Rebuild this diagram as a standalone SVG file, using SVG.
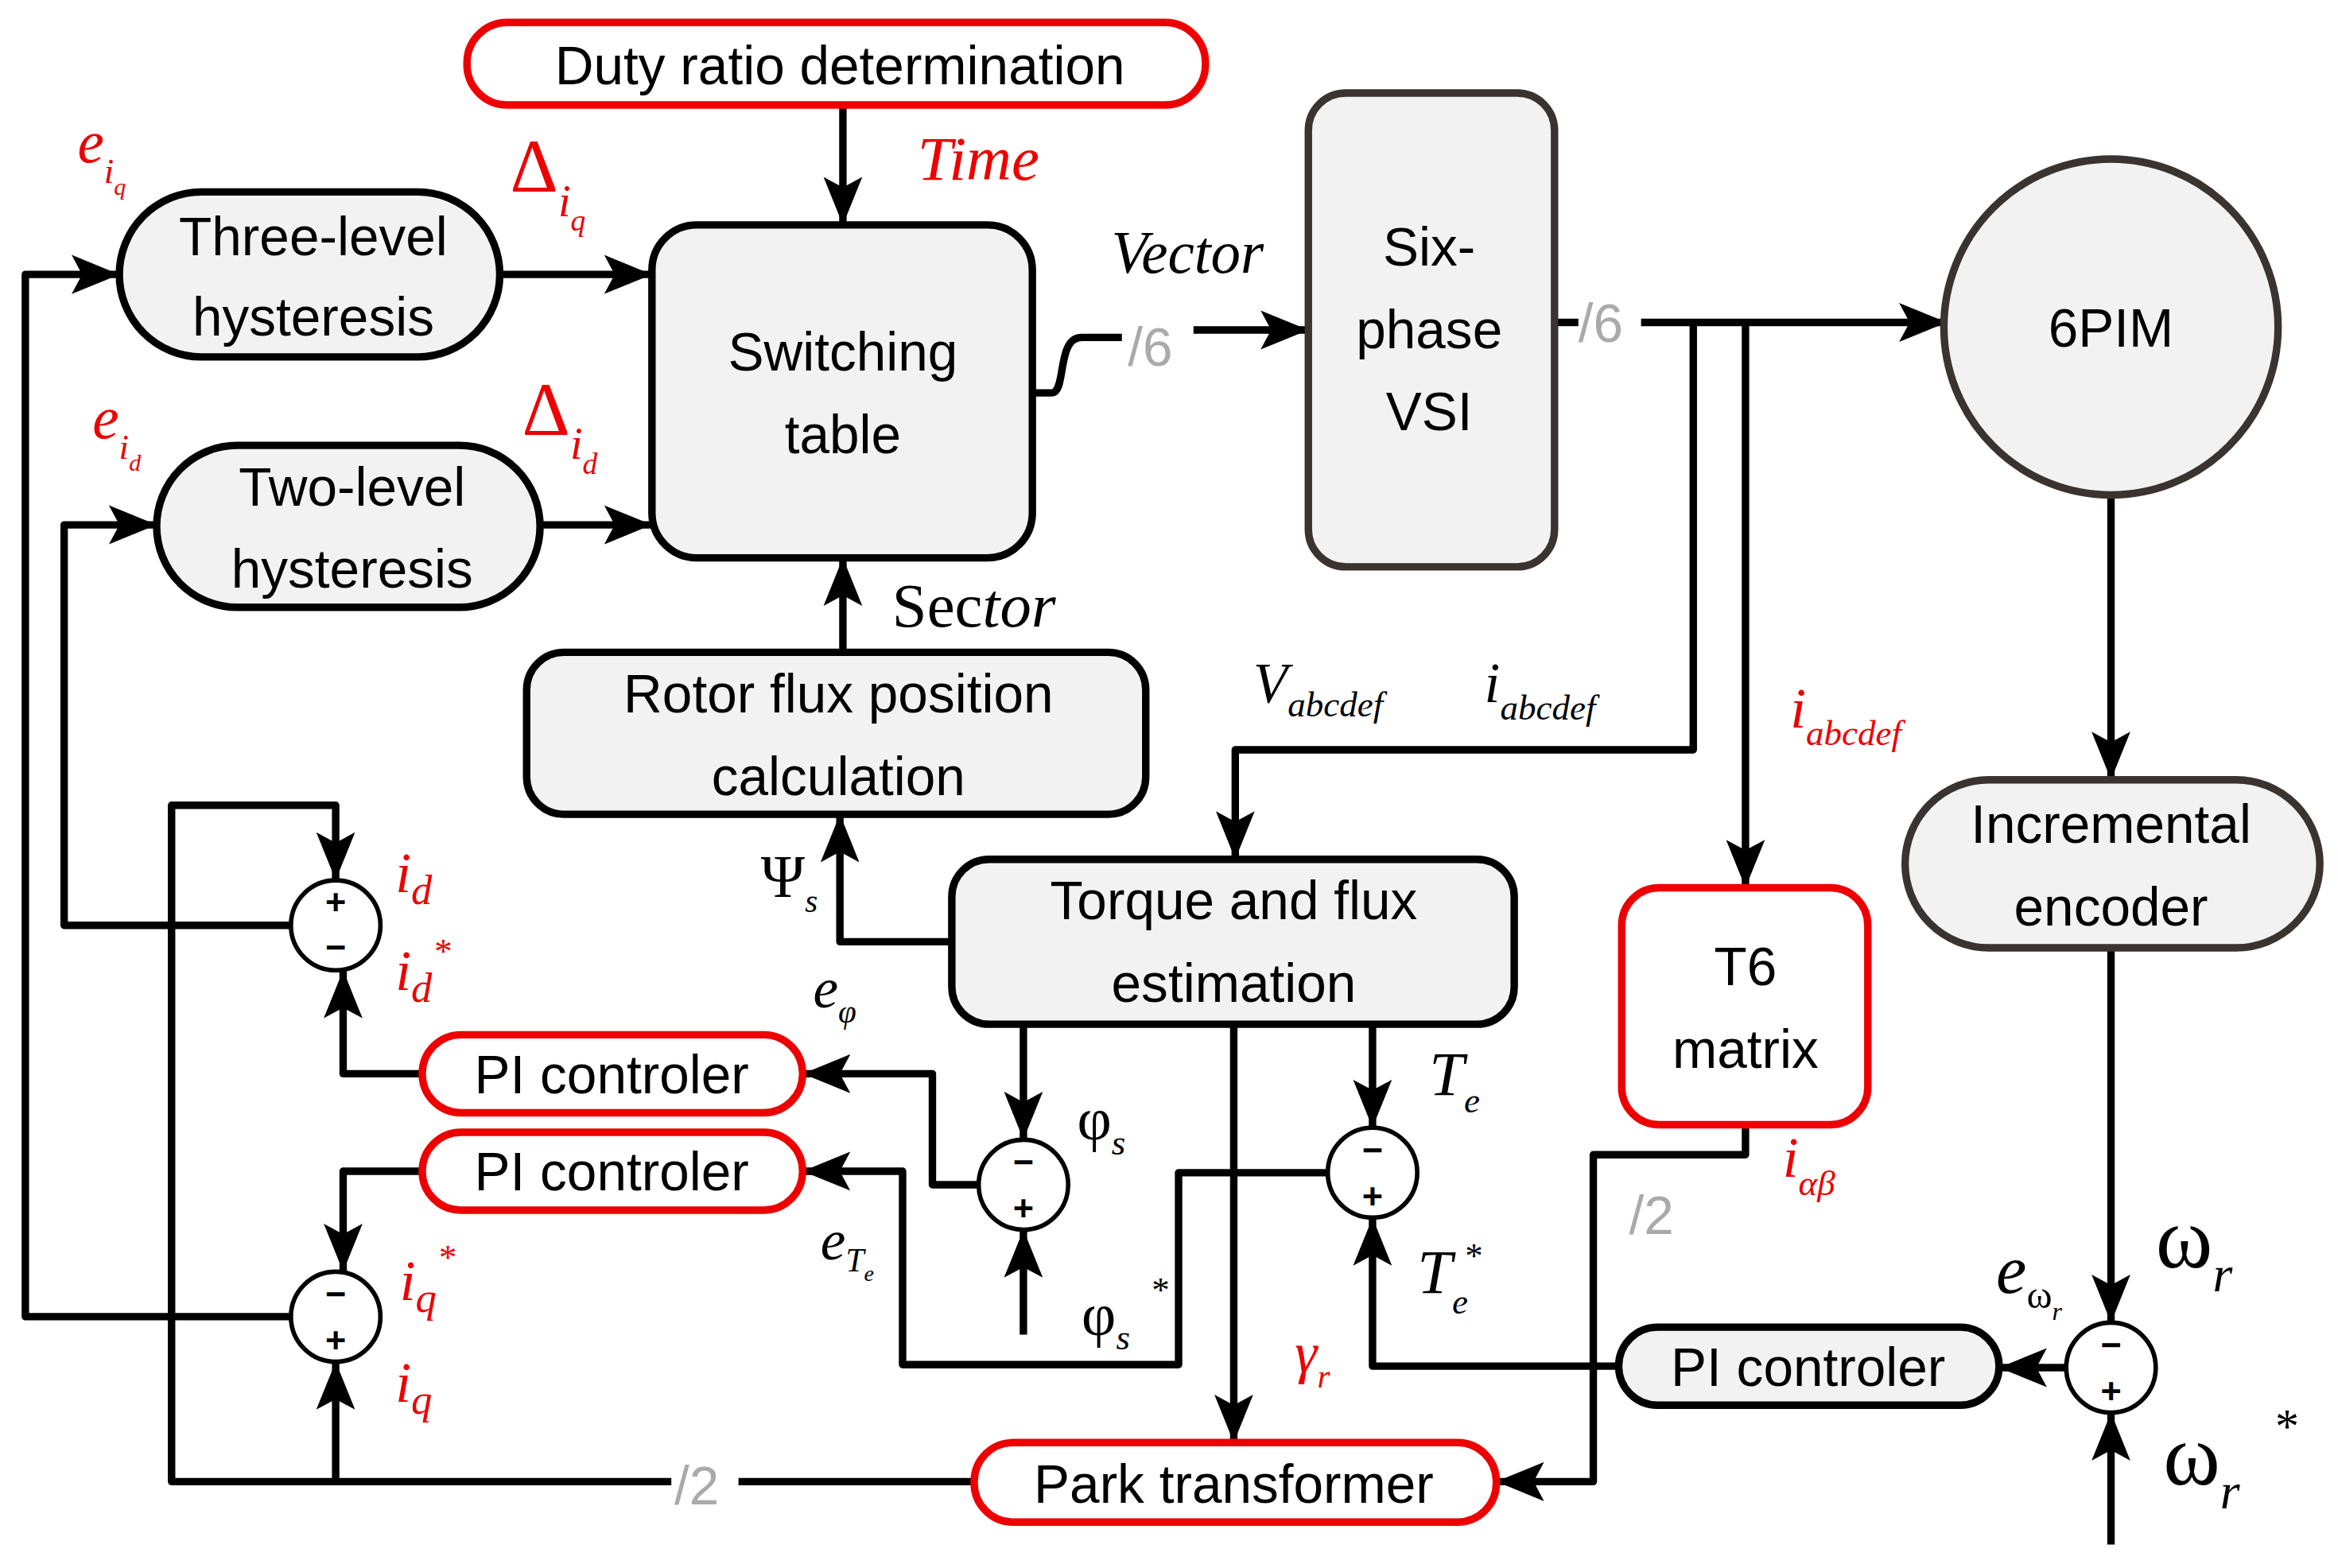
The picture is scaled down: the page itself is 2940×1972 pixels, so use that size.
<svg xmlns="http://www.w3.org/2000/svg" width="2940" height="1972" viewBox="0 0 2940 1972">
<style>
.t{font-family:"Liberation Sans",Arial,sans-serif;font-size:36px;text-anchor:middle;fill:#000}
.m{font-family:"Liberation Serif","Times New Roman",serif;font-style:italic;fill:#000}
.r{fill:#e00}
.g{font-family:"Liberation Sans",Arial,sans-serif;font-size:36px;fill:#aaa}
.w{fill:none;stroke:#000;stroke-width:5;stroke-linejoin:round}
.gb{fill:#f2f2f2;stroke:#000;stroke-width:5}
.rb{fill:#fff;stroke:#e00;stroke-width:5}
.db{fill:#f2f2f2;stroke:#3a3330;stroke-width:5}
.c{fill:#fff;stroke:#000;stroke-width:3}
.s{font-family:"Liberation Sans",Arial,sans-serif;font-size:24px;font-weight:bold;text-anchor:middle}
</style>
<defs>
<marker id="a" markerUnits="userSpaceOnUse" markerWidth="34" markerHeight="30" refX="32" refY="15" orient="auto"><path d="M0,2 L32,15 L0,28 L7,15 Z" fill="#000"/></marker>
</defs>
<rect width="2940" height="1972" fill="#fff"/>
<g transform="scale(1.876,1.886)">
<g id="connectors">
<path class="w" d="M565,70 V150" marker-end="url(#a)"/>
<path class="w" d="M335,183 H437" marker-end="url(#a)"/>
<path class="w" d="M362,350 H437" marker-end="url(#a)"/>
<path class="w" d="M195,878 H17 V183 H80" marker-end="url(#a)"/>
<path class="w" d="M195,617 H43 V350 H105" marker-end="url(#a)"/>
<path class="w" d="M653,988 H495"/>
<path class="w" d="M450,988 H115 V537 H225 V587" marker-end="url(#a)"/>
<path class="w" d="M225,988 V908" marker-end="url(#a)"/>
<path class="w" d="M283,716 H230 V647" marker-end="url(#a)"/>
<path class="w" d="M283,781 H230 V848" marker-end="url(#a)"/>
<path class="w" d="M565,435 V372" marker-end="url(#a)"/>
<path class="w" d="M638,628 H563 V543" marker-end="url(#a)"/>
<path class="w" d="M692,262 H705 C715,262 708,225 725,225 H752"/>
<path class="w" d="M800,220 H877" marker-end="url(#a)"/>
<path class="w" d="M1042,215 H1058"/>
<path class="w" d="M1100,215 H1305" marker-end="url(#a)"/>
<path class="w" d="M1135,215 V500 H828 V573" marker-end="url(#a)"/>
<path class="w" d="M1170,215 V592" marker-end="url(#a)"/>
<path class="w" d="M1170,750 V770 H1068 V988 H1003" marker-end="url(#a)"/>
<path class="w" d="M1415,330 V520" marker-end="url(#a)"/>
<path class="w" d="M1415,632 V882" marker-end="url(#a)"/>
<path class="w" d="M1415,1030 V942" marker-end="url(#a)"/>
<path class="w" d="M1385,912 H1340" marker-end="url(#a)"/>
<path class="w" d="M1085,911 H920 V812" marker-end="url(#a)"/>
<path class="w" d="M920,683 V752" marker-end="url(#a)"/>
<path class="w" d="M890,782 H790 V910 H605 V781 H538" marker-end="url(#a)"/>
<path class="w" d="M686,683 V760" marker-end="url(#a)"/>
<path class="w" d="M656,790 H625 V716 H538" marker-end="url(#a)"/>
<path class="w" d="M686,890 V820" marker-end="url(#a)"/>
<path class="w" d="M827,683 V962" marker-end="url(#a)"/>
</g>
<g id="duty"><rect class="rb" x="313" y="15" width="495" height="55" rx="27"/><text class="t" x="563" y="56">Duty ratio determination</text></g>
<g id="switch"><rect class="gb" x="437" y="150" width="255" height="222" rx="30"/><text class="t" x="565" y="247" font-size="38">Switching</text><text class="t" x="565" y="302" font-size="38">table</text></g>
<g id="three"><rect class="gb" x="80" y="128" width="255" height="110" rx="55"/><text class="t" x="210" y="170">Three-level</text><text class="t" x="210" y="224">hysteresis</text></g>
<g id="two"><rect class="gb" x="105" y="297" width="257" height="108" rx="54"/><text class="t" x="236" y="337">Two-level</text><text class="t" x="236" y="392">hysteresis</text></g>
<g id="rotor"><rect class="gb" x="353" y="435" width="415" height="108" rx="25"/><text class="t" x="562" y="475">Rotor flux position</text><text class="t" x="562" y="530">calculation</text></g>
<g id="torque"><rect class="gb" x="638" y="573" width="377" height="110" rx="25"/><text class="t" x="827" y="613">Torque and flux</text><text class="t" x="827" y="668">estimation</text></g>
<g id="vsi"><rect class="db" x="877" y="62" width="165" height="316" rx="25"/><text class="t" x="958" y="177">Six-</text><text class="t" x="958" y="232">phase</text><text class="t" x="958" y="287">VSI</text></g>
<g id="pim"><circle class="db" cx="1415" cy="218" r="112"/><text class="t" x="1415" y="231" font-size="37">6PIM</text></g>
<g id="t6"><rect class="rb" x="1087" y="592" width="165" height="158" rx="25"/><text class="t" x="1170" y="657">T6</text><text class="t" x="1170" y="712">matrix</text></g>
<g id="encoder"><rect class="db" x="1277" y="520" width="278" height="112" rx="56"/><text class="t" x="1415" y="562">Incremental</text><text class="t" x="1415" y="617">encoder</text></g>
<g id="pi1"><rect class="rb" x="283" y="690" width="255" height="52" rx="26"/><text class="t" x="410" y="729">PI controler</text></g>
<g id="pi2"><rect class="rb" x="283" y="755" width="255" height="52" rx="26"/><text class="t" x="410" y="794">PI controler</text></g>
<g id="pi3"><rect class="gb" x="1085" y="885" width="255" height="52" rx="26"/><text class="t" x="1212" y="924">PI controler</text></g>
<g id="park"><rect class="rb" x="653" y="962" width="350" height="53" rx="26"/><text class="t" x="827" y="1002">Park transformer</text></g>
<g id="sumd"><circle class="c" cx="225" cy="617" r="30"/><text class="s" x="225" y="610">+</text><text class="s" x="225" y="640">−</text></g>
<g id="sumq"><circle class="c" cx="225" cy="878" r="30"/><text class="s" x="225" y="871">−</text><text class="s" x="225" y="902">+</text></g>
<g id="sumphi"><circle class="c" cx="686" cy="790" r="30"/><text class="s" x="686" y="783">−</text><text class="s" x="686" y="814">+</text></g>
<g id="sumte"><circle class="c" cx="920" cy="782" r="30"/><text class="s" x="920" y="775">−</text><text class="s" x="920" y="806">+</text></g>
<g id="sumw"><circle class="c" cx="1415" cy="912" r="30"/><text class="s" x="1415" y="905">−</text><text class="s" x="1415" y="936">+</text></g>
<g id="labels">
<text class="m r" x="615" y="120" font-size="42">Time</text>
<text class="m" x="745" y="182" font-size="40">Vector</text>
<text class="g" x="756" y="244">/6</text>
<text class="g" x="1058" y="228">/6</text>
<text class="g" x="452" y="1003">/2</text>
<text class="g" x="1092" y="823">/2</text>
<text font-family="Liberation Serif,serif" font-size="42" x="598" y="418">Sec<tspan font-style="italic">tor</tspan></text>
<text class="m r" x="52" y="108" font-size="40">e<tspan font-size="24" dy="14">i</tspan><tspan font-size="16" dy="8">q</tspan></text>
<text class="m r" x="62" y="292" font-size="40">e<tspan font-size="24" dy="14">i</tspan><tspan font-size="16" dy="8">d</tspan></text>
<text font-family="Liberation Serif,serif" fill="#e00" font-size="50" x="342" y="128">Δ<tspan font-style="italic" font-size="30" dy="16">i</tspan><tspan font-style="italic" font-size="20" dy="10">q</tspan></text>
<text font-family="Liberation Serif,serif" fill="#e00" font-size="50" x="350" y="290">Δ<tspan font-style="italic" font-size="30" dy="16">i</tspan><tspan font-style="italic" font-size="20" dy="10">d</tspan></text>
<text class="m r" x="265" y="595" font-size="38">i<tspan font-size="28" dy="8">d</tspan></text>
<text class="m r" x="265" y="660" font-size="38">i<tspan font-size="28" dy="8">d</tspan></text>
<text class="m r" x="290" y="642" font-size="24">*</text>
<text class="m r" x="268" y="867" font-size="38">i<tspan font-size="28" dy="8">q</tspan></text>
<text class="m r" x="293" y="846" font-size="24">*</text>
<text class="m r" x="265" y="935" font-size="38">i<tspan font-size="28" dy="8">q</tspan></text>
<text font-family="Liberation Serif,serif" font-size="40" x="510" y="598">Ψ<tspan font-style="italic" font-size="22" dy="10">s</tspan></text>
<text class="m" x="545" y="672" font-size="38">e<tspan font-size="22" dy="10">φ</tspan></text>
<text class="m" x="550" y="840" font-size="38">e<tspan font-size="22" dy="8">T</tspan><tspan font-size="15" dy="6">e</tspan></text>
<text class="m" x="840" y="468" font-size="38">V<tspan font-size="24" dy="10">abcdef</tspan></text>
<text class="m" x="995" y="468" font-size="38">i<tspan font-size="24" dy="12">abcdef</tspan></text>
<text class="m r" x="1200" y="485" font-size="38">i<tspan font-size="24" dy="12">abcdef</tspan></text>
<text class="m r" x="1195" y="785" font-size="38">i<tspan font-size="24" dy="12">αβ</tspan></text>
<text font-family="Liberation Serif,serif" font-size="40" x="722" y="760">φ<tspan font-style="italic" font-size="24" dy="10">s</tspan></text>
<text font-family="Liberation Serif,serif" font-size="40" x="725" y="890">φ<tspan font-style="italic" font-size="24" dy="10">s</tspan></text>
<text font-family="Liberation Serif,serif" font-size="24" x="772" y="868">*</text>
<text class="m" x="958" y="730" font-size="42">T<tspan font-size="24" dy="12">e</tspan></text>
<text class="m" x="950" y="862" font-size="42">T<tspan font-size="24" dy="14">e</tspan></text>
<text font-family="Liberation Serif,serif" font-size="24" x="982" y="845">*</text>
<text class="m r" x="868" y="915" font-size="38">γ<tspan font-size="22" dy="10">r</tspan></text>
<text font-family="Liberation Serif,serif" font-size="58" x="1445" y="845">ω<tspan font-style="italic" font-size="34" dy="16">r</tspan></text>
<text class="m" x="1338" y="862" font-size="46">e<tspan font-style="normal" font-size="26" dy="10">ω</tspan><tspan font-size="17" dy="8">r</tspan></text>
<text font-family="Liberation Serif,serif" font-size="58" x="1450" y="990">ω<tspan font-style="italic" font-size="34" dy="16">r</tspan></text>
<text font-family="Liberation Serif,serif" font-size="32" x="1525" y="962">*</text>
</g>
</g>
</svg>
